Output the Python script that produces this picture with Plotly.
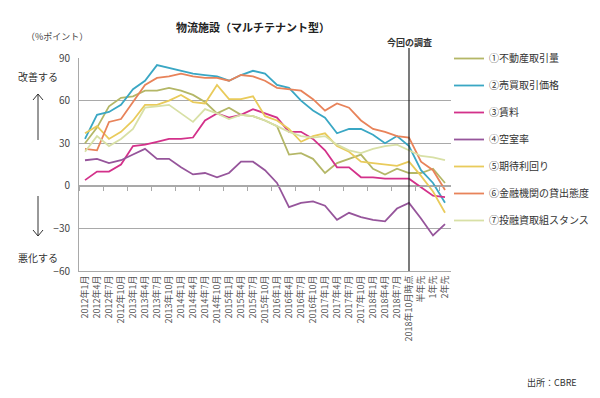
import plotly.graph_objects as go

# ---------------- data ----------------
periods = ["2012年1月", "2012年4月", "2012年7月", "2012年10月",
           "2013年1月", "2013年4月", "2013年7月", "2013年10月",
           "2014年1月", "2014年4月", "2014年7月", "2014年10月",
           "2015年1月", "2015年4月", "2015年7月", "2015年10月",
           "2016年1月", "2016年4月", "2016年7月", "2016年10月",
           "2017年1月", "2017年4月", "2017年7月", "2017年10月",
           "2018年1月", "2018年4月", "2018年7月", "2018年10月時点",
           "半年先", "1年先", "2年先"]

s1_volume = [30, 41, 56, 62, 63, 67, 67, 69, 67, 64, 59, 51, 55, 50, 49, 46,
             42, 22, 23, 19, 9, 16, 19, 22, 12, 8, 12, 9, 9, 12, 2]
s2_price = [33, 50, 52, 57, 68, 74, 85, 83, 81, 79, 78, 77, 74, 78, 81, 79,
            71, 69, 60, 53, 48, 37, 40, 40, 36, 30, 35, 28, 11, 2, -12]
s3_rent = [4, 10, 10, 15, 28, 29, 31, 33, 33, 34, 46, 51, 48, 50, 54, 51,
           48, 38, 38, 33, 25, 13, 13, 6, 6, 5, 5, 5, -1, -7, -8]
s4_vacancy = [18, 19, 16, 18, 22, 26, 19, 19, 13, 8, 9, 6, 9, 17, 17, 11,
              2, -15, -12, -11, -14, -24, -19, -22, -24, -25, -16, -12, -23, -35, -27]
s5_yield = [37, 42, 33, 38, 46, 57, 57, 60, 64, 59, 58, 71, 61, 61, 63, 49,
            46, 40, 31, 35, 37, 28, 24, 17, 16, 15, 14, 17, 7, -4, -19]
s6_lending = [26, 25, 45, 47, 59, 71, 76, 77, 79, 77, 76, 76, 74, 78, 77, 74,
              69, 68, 67, 61, 53, 58, 55, 46, 40, 38, 35, 34, 17, 11, -3]
s7_stance = [24, 35, 28, 33, 40, 55, 56, 57, 51, 45, 54, 51, 47, 50, 49, 46,
             42, 38, 35, 34, 35, 29, 25, 23, 26, 28, 29, 25, 21, 20, 18]

series_names = ["①不動産取引量", "②売買取引価格", "③賃料", "④空室率",
                "⑤期待利回り", "⑥金融機関の貸出態度", "⑦投融資取組スタンス"]
series_values = [s1_volume, s2_price, s3_rent, s4_vacancy, s5_yield, s6_lending, s7_stance]
series_colors = ["#b4b767", "#3aa7c4", "#d3318a", "#96559b", "#e9cb5b", "#e8835a", "#d8e0a6"]

y_ticks = [-60, -30, 0, 30, 60, 90]
current_label = "2018年10月時点"

# ---------------- layout helpers ----------------
# the page body adds an 8px margin, so the figure is laid out in page
# coordinates shifted by OFF
OFF = 8
W, H = 584, 382
L, R, T, B = 79 - OFF, 451 - OFF, 58 - OFF, 271 - OFF
FONT = "Noto Sans CJK JP"
GRID = "#a9a9a9"


def px(x):
    """page x pixel -> paper fraction"""
    return (x - OFF - L) / (R - L)


def py(y):
    """page y pixel -> paper fraction"""
    return (B - (y - OFF)) / (B - T)


fig = go.Figure()
for i, (name, vals, col) in enumerate(zip(series_names, series_values, series_colors)):
    fig.add_trace(go.Scatter(
        x=periods, y=vals, mode="lines", name=name,
        line=dict(color=col, width=1.8),
        legendgroup=f"g{i}",
        xaxis="x2" if i == 6 else "x",
    ))

ymin, ymax = y_ticks[0], y_ticks[-1]

fig.update_layout(
    width=W, height=H,
    margin=dict(l=L, r=W - R, t=T, b=H - B, autoexpand=False),
    paper_bgcolor="white", plot_bgcolor="white",
    font=dict(family=FONT, color="#333333", size=10),
    showlegend=True,
    legend=dict(x=px(449), y=py(44), xanchor="left", yanchor="top",
                font=dict(size=10, color="#333333"), tracegroupgap=8,
                itemwidth=30, bgcolor="rgba(0,0,0,0)"),
    xaxis=dict(type="category", range=[-0.5, len(periods) - 0.5],
               tickangle=-90, tickfont=dict(size=9, color="#555555"),
               showgrid=False, ticks="", showline=True, linecolor=GRID,
               linewidth=1, automargin=False),
    xaxis2=dict(type="category", overlaying="x", matches="x", anchor="free",
                position=(0 - ymin) / (ymax - ymin), side="bottom",
                showticklabels=False, ticks="outside", ticklen=4,
                tickcolor=GRID, tickson="boundaries", showline=True,
                linecolor=GRID, linewidth=1, showgrid=False, automargin=False),
    yaxis=dict(range=[ymin, ymax], tickvals=y_ticks, gridcolor=GRID,
               gridwidth=1, zeroline=False, showline=True, linecolor=GRID,
               tickfont=dict(size=10, color="#444444"), ticks="",
               ticklabelstandoff=6, automargin=False),
)

# vertical "current survey" line
cur_idx = periods.index(current_label)
fig.add_shape(type="line", xref="x", yref="paper", x0=cur_idx, x1=cur_idx,
              y0=0, y1=py(48), line=dict(color="#222222", width=1.2))


def label(x, y, text, size, color="#333333", xref="paper"):
    fig.add_annotation(x=x, y=y, xref=xref, yref="paper", text=text,
                       showarrow=False, xanchor="center", yanchor="middle",
                       font=dict(size=size, color=color))


label(cur_idx, py(42), "<b>今回の調査</b>", 9, xref="x")
label(px(253), py(27), "<b>物流施設（マルチテナント型）</b>", 11, "#222222")
label(px(57), py(37), "（%ポイント）", 9, "#444444")
label(px(38), py(76), "改善する", 10)
label(px(38), py(257), "悪化する", 10)
label(px(552), py(382), "出所：CBRE", 9)


# arrows (drawn as open chevrons)
def arrow_path(x, y_tip, y_tail, up=True):
    d = 6 if up else -6
    return (f"M {px(x)} {py(y_tail)} L {px(x)} {py(y_tip)} "
            f"M {px(x - 5)} {py(y_tip + d)} L {px(x)} {py(y_tip)} L {px(x + 5)} {py(y_tip + d)}")


fig.add_shape(type="path", xref="paper", yref="paper",
              path=arrow_path(38, 94, 140, up=True), line=dict(color="#333333", width=1))
fig.add_shape(type="path", xref="paper", yref="paper",
              path=arrow_path(38, 236, 196, up=False), line=dict(color="#333333", width=1))

fig.write_html("out.html")
